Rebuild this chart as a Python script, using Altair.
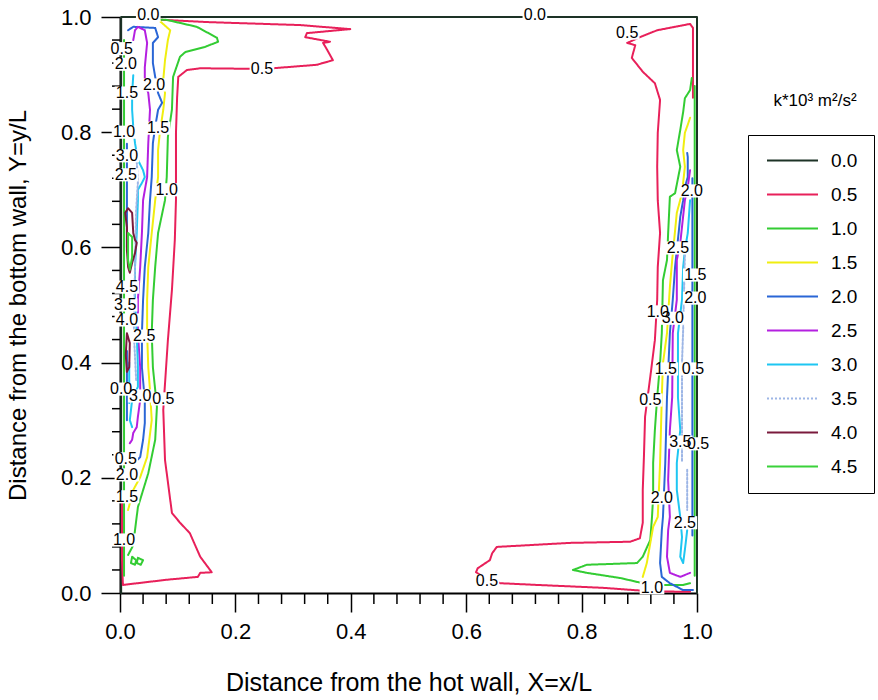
import altair as alt
import pandas as pd

# ---------------- data ----------------
levels = ["0.0", "0.5", "1.0", "1.5", "2.0", "2.5", "3.0", "3.5", "4.0", "4.5"]
level_colors = ["#1d3326", "#e8205a", "#33cc33", "#f0ee10", "#2a66d6",
                "#b420e0", "#1ec6f2", "#9db6e6", "#7a1a3c", "#3ad23a"]
level_dash = [[1, 0]] * 7 + [[2, 2]] + [[1, 0]] * 2

major_ticks = [0.0, 0.2, 0.4, 0.6, 0.8, 1.0]
minor_ticks = [0.04, 0.08, 0.12, 0.16, 0.24, 0.28, 0.32, 0.36, 0.44, 0.48, 0.52,
               0.56, 0.64, 0.68, 0.72, 0.76, 0.84, 0.88, 0.92, 0.96]

# k = 0.0 (walls)
k00_wall_x = [0.002, 0.002, 1.0, 1.0]
k00_wall_y = [0.0, 1.0, 1.0, 0.0]

# k = 0.5
k05_left_x = [0.0035, 0.0035, 0.005, 0.081, 0.135, 0.139, 0.159, 0.139, 0.121, 0.104, 0.090,
              0.078, 0.075, 0.083, 0.090, 0.095, 0.097, 0.097, 0.099, 0.101, 0.116, 0.139,
              0.231, 0.265, 0.341, 0.369, 0.359, 0.352, 0.364, 0.321, 0.324, 0.399, 0.312,
              0.156, 0.075, 0.035]
k05_left_y = [0.161, 0.057, 0.014, 0.023, 0.028, 0.035, 0.036, 0.063, 0.104, 0.122, 0.139,
              0.231, 0.318, 0.439, 0.526, 0.613, 0.682, 0.799, 0.861, 0.896, 0.908, 0.911,
              0.910, 0.911, 0.917, 0.925, 0.943, 0.955, 0.957, 0.965, 0.972, 0.979, 0.986,
              0.991, 0.995, 0.997]
k05_right_x = [0.993, 0.993, 0.993, 0.988, 0.931, 0.901, 0.879, 0.893, 0.887, 0.906, 0.927,
               0.936, 0.932, 0.931, 0.932, 0.936, 0.932, 0.931, 0.927, 0.919, 0.910, 0.908,
               0.906, 0.906, 0.901, 0.884, 0.780, 0.653, 0.645, 0.641, 0.620, 0.617, 0.627,
               0.659, 0.723, 0.837, 0.919, 0.988]
k05_right_y = [0.860, 0.943, 0.981, 0.988, 0.977, 0.965, 0.955, 0.951, 0.929, 0.905, 0.885,
               0.856, 0.799, 0.740, 0.682, 0.625, 0.566, 0.509, 0.439, 0.375, 0.306, 0.236,
               0.179, 0.122, 0.095, 0.089, 0.087, 0.080, 0.069, 0.057, 0.043, 0.036, 0.030,
               0.017, 0.014, 0.009, 0.003, 0.002]

# k = 1.0
k10_left_x = [0.014, 0.023, 0.026, 0.031, 0.049, 0.061, 0.064, 0.057, 0.055, 0.057, 0.061,
              0.066, 0.078, 0.081, 0.083, 0.090, 0.092, 0.104, 0.113, 0.147, 0.170, 0.168,
              0.133, 0.081, 0.035]
k10_left_y = [0.066, 0.083, 0.109, 0.149, 0.208, 0.266, 0.323, 0.392, 0.451, 0.509, 0.566,
              0.625, 0.682, 0.722, 0.792, 0.839, 0.896, 0.931, 0.939, 0.948, 0.957, 0.964,
              0.983, 0.995, 0.997]
k10_blob1_x = [0.021, 0.028, 0.026, 0.019, 0.021]
k10_blob1_y = [0.063, 0.057, 0.049, 0.052, 0.063]
k10_blob2_x = [0.031, 0.040, 0.036, 0.029, 0.031]
k10_blob2_y = [0.061, 0.057, 0.049, 0.052, 0.061]
k10_wall_left_x = [0.007, 0.007]
k10_wall_left_y = [0.03, 0.96]
k10_right_x = [0.991, 0.988, 0.979, 0.976, 0.971, 0.965, 0.971, 0.962, 0.953, 0.950, 0.948,
               0.941, 0.939, 0.936, 0.931, 0.927, 0.924, 0.924, 0.922, 0.919, 0.906, 0.896,
               0.809, 0.785, 0.809, 0.867, 0.906, 0.931, 0.976, 0.988]
k10_right_y = [0.894, 0.873, 0.859, 0.835, 0.804, 0.769, 0.740, 0.694, 0.688, 0.625, 0.578,
               0.543, 0.451, 0.399, 0.340, 0.283, 0.226, 0.167, 0.132, 0.092, 0.063, 0.052,
               0.049, 0.040, 0.035, 0.026, 0.017, 0.014, 0.014, 0.017]
k10_wall_right_x = [0.996, 0.996]
k10_wall_right_y = [0.03, 0.88]

# k = 1.5
k15_left_x = [0.014, 0.023, 0.035, 0.047, 0.055, 0.052, 0.049, 0.047, 0.047, 0.049, 0.055,
              0.061, 0.066, 0.066, 0.069, 0.075, 0.078, 0.075, 0.078, 0.083, 0.087, 0.069]
k15_left_y = [0.144, 0.179, 0.201, 0.236, 0.300, 0.352, 0.392, 0.451, 0.509, 0.566, 0.625,
              0.682, 0.722, 0.769, 0.799, 0.839, 0.868, 0.891, 0.925, 0.960, 0.977, 0.993]
k15_right_x = [0.988, 0.984, 0.979, 0.976, 0.979, 0.974, 0.965, 0.957, 0.953, 0.948, 0.941,
               0.939, 0.936, 0.932, 0.924, 0.913, 0.906]
k15_right_y = [0.825, 0.813, 0.799, 0.769, 0.740, 0.694, 0.660, 0.578, 0.531, 0.451, 0.399,
               0.340, 0.226, 0.132, 0.115, 0.052, 0.028]

# k = 2.0
k20_left_x = [0.021, 0.026, 0.035, 0.040, 0.043, 0.043, 0.038, 0.038, 0.040, 0.043, 0.049,
              0.052, 0.055, 0.057, 0.061, 0.066, 0.073, 0.066, 0.061, 0.057, 0.057, 0.066,
              0.061, 0.023, 0.014]
k20_left_y = [0.231, 0.227, 0.236, 0.266, 0.295, 0.335, 0.392, 0.451, 0.509, 0.566, 0.625,
              0.682, 0.722, 0.781, 0.809, 0.839, 0.851, 0.868, 0.896, 0.920, 0.955, 0.965,
              0.981, 0.983, 0.977]
k20_wall_a_x = [0.012, 0.012]
k20_wall_a_y = [0.60, 0.78]
k20_wall_b_x = [0.012, 0.012]
k20_wall_b_y = [0.30, 0.42]
k20_right_x = [0.983, 0.984, 0.984, 0.979, 0.976, 0.971, 0.965, 0.962, 0.958, 0.953, 0.948,
               0.945, 0.941, 0.939, 0.936, 0.939, 0.953, 0.976, 0.993]
k20_right_y = [0.764, 0.757, 0.722, 0.705, 0.682, 0.653, 0.595, 0.566, 0.509, 0.451, 0.340,
               0.226, 0.132, 0.109, 0.052, 0.028, 0.017, 0.005, 0.005]
k20_wall_right_x = [0.992, 0.992]
k20_wall_right_y = [0.10, 0.72]

# k = 2.5
k25_left_x = [0.017, 0.021, 0.023, 0.029, 0.031, 0.035, 0.035, 0.035, 0.031, 0.031, 0.035,
              0.038, 0.040, 0.047, 0.049, 0.052, 0.049, 0.043, 0.043, 0.047, 0.043, 0.031,
              0.026, 0.023]
k25_left_y = [0.260, 0.266, 0.278, 0.288, 0.306, 0.335, 0.358, 0.392, 0.451, 0.509, 0.566,
              0.625, 0.682, 0.722, 0.781, 0.839, 0.868, 0.885, 0.913, 0.955, 0.977, 0.983,
              0.977, 0.960]
k25_right_x = [0.988, 0.984, 0.979, 0.971, 0.965, 0.965, 0.958, 0.957, 0.953, 0.950, 0.953,
               0.950, 0.948, 0.953, 0.971, 0.988]
k25_right_y = [0.734, 0.705, 0.682, 0.608, 0.578, 0.509, 0.451, 0.340, 0.283, 0.196, 0.132,
               0.109, 0.063, 0.035, 0.028, 0.035]

# k = 3.0
k30_left_x = [0.021, 0.017, 0.021, 0.031, 0.031, 0.029, 0.026, 0.026, 0.029, 0.031, 0.031,
              0.038, 0.043, 0.040, 0.031, 0.026, 0.023, 0.021, 0.021, 0.023]
k30_left_y = [0.288, 0.300, 0.335, 0.358, 0.392, 0.451, 0.509, 0.566, 0.625, 0.682, 0.700,
              0.712, 0.722, 0.734, 0.752, 0.781, 0.809, 0.839, 0.868, 0.899]
k30_wall_x = [0.016, 0.016]
k30_wall_y = [0.33, 0.40]
k30_right_x = [0.988, 0.984, 0.979, 0.976, 0.974, 0.967, 0.967, 0.971, 0.965, 0.965, 0.971,
               0.974, 0.971, 0.976, 0.979, 0.983]
k30_right_y = [0.682, 0.625, 0.595, 0.566, 0.509, 0.451, 0.340, 0.283, 0.226, 0.179, 0.132,
               0.097, 0.063, 0.052, 0.075, 0.109]

# k = 3.5
k35_left_x = [0.028, 0.031, 0.028, 0.026, 0.024, 0.028]
k35_left_y = [0.769, 0.712, 0.665, 0.566, 0.451, 0.370]
k35_right_x = [0.979, 0.976, 0.974, 0.974]
k35_right_y = [0.587, 0.457, 0.399, 0.226]
k35_right2_x = [0.983, 0.983]
k35_right2_y = [0.214, 0.144]

# k = 4.0
k40_a_x = [0.009, 0.014, 0.021, 0.023, 0.026, 0.029, 0.026, 0.021, 0.017, 0.014, 0.012, 0.012, 0.009]
k40_a_y = [0.660, 0.668, 0.660, 0.625, 0.613, 0.608, 0.590, 0.573, 0.556, 0.566, 0.595, 0.635, 0.660]
k40_b_x = [0.012, 0.017, 0.016, 0.012, 0.010, 0.012]
k40_b_y = [0.451, 0.434, 0.392, 0.384, 0.413, 0.451]

# k = 4.5
k45_x = [0.014, 0.021, 0.021, 0.017, 0.014, 0.014]
k45_y = [0.625, 0.618, 0.583, 0.561, 0.578, 0.625]

# contour labels
lab_text = ["0.0", "0.0", "0.5", "0.5", "2.0", "1.5", "2.0", "1.5", "1.0", "3.0", "2.5", "1.0",
            "4.5", "3.5", "4.0", "2.5", "0.0", "3.0", "0.5", "0.5", "2.0", "1.5", "1.0",
            "0.5", "2.0", "2.5", "1.5", "2.0", "1.0", "3.0", "1.5", "0.5", "0.5", "0.5",
            "3.5", "2.0", "2.5", "1.0", "0.5"]
lab_x = [0.049, 0.719, 0.246, 0.003, 0.010, 0.012, 0.059, 0.066, 0.007, 0.012, 0.010, 0.081,
         0.012, 0.009, 0.012, 0.042, 0.002, 0.035, 0.075, 0.010, 0.012, 0.012, 0.007,
         0.879, 0.991, 0.967, 0.997, 0.997, 0.932, 0.958, 0.946, 0.993, 0.919, 1.002,
         0.971, 0.939, 0.979, 0.922, 0.636]
lab_y = [1.003, 1.003, 0.910, 0.945, 0.918, 0.868, 0.882, 0.807, 0.800, 0.759, 0.726, 0.700,
         0.531, 0.500, 0.474, 0.446, 0.354, 0.342, 0.337, 0.233, 0.205, 0.167, 0.092,
         0.972, 0.698, 0.599, 0.552, 0.512, 0.488, 0.477, 0.389, 0.389, 0.335, 0.259,
         0.262, 0.165, 0.122, 0.009, 0.021]

legend_title = "k*10\u00b3 m\u00b2/s\u00b2"

segments = [
    ("0.0", k00_wall_x, k00_wall_y),
    ("0.5", k05_left_x, k05_left_y), ("0.5", k05_right_x, k05_right_y),
    ("1.0", k10_left_x, k10_left_y), ("1.0", k10_blob1_x, k10_blob1_y),
    ("1.0", k10_blob2_x, k10_blob2_y), ("1.0", k10_wall_left_x, k10_wall_left_y),
    ("1.0", k10_right_x, k10_right_y), ("1.0", k10_wall_right_x, k10_wall_right_y),
    ("1.5", k15_left_x, k15_left_y), ("1.5", k15_right_x, k15_right_y),
    ("2.0", k20_left_x, k20_left_y), ("2.0", k20_wall_a_x, k20_wall_a_y),
    ("2.0", k20_wall_b_x, k20_wall_b_y), ("2.0", k20_right_x, k20_right_y),
    ("2.0", k20_wall_right_x, k20_wall_right_y),
    ("2.5", k25_left_x, k25_left_y), ("2.5", k25_right_x, k25_right_y),
    ("3.0", k30_left_x, k30_left_y), ("3.0", k30_wall_x, k30_wall_y),
    ("3.0", k30_right_x, k30_right_y),
    ("3.5", k35_left_x, k35_left_y), ("3.5", k35_right_x, k35_right_y),
    ("3.5", k35_right2_x, k35_right2_y),
    ("4.0", k40_a_x, k40_a_y), ("4.0", k40_b_x, k40_b_y),
    ("4.5", k45_x, k45_y),
]

rows = []
for sid, (lev, xs, ys) in enumerate(segments):
    for i, (x, y) in enumerate(zip(xs, ys)):
        rows.append({"level": lev, "seg": sid, "i": i, "x": x, "y": y})
df = pd.DataFrame(rows)
labels_df = pd.DataFrame({"text": lab_text, "x": lab_x, "y": lab_y})
title_df = pd.DataFrame({"t": [legend_title]})
minor_df = pd.DataFrame({"v": minor_ticks})

# ---------------- chart ----------------
NUM_FONT = "Liberation Sans Narrow, Liberation Sans, Arial"
TXT_FONT = "Liberation Sans, Arial"
W, H = 577, 576

xscale = alt.Scale(domain=[0, 1], nice=False, zero=False)
yscale = alt.Scale(domain=[0, 1], nice=False, zero=False)

x_axis = alt.Axis(values=major_ticks, format=".1f", orient="bottom", tickSize=19, tickWidth=1.5,
                  tickColor="black", domainColor="black", domainWidth=2, grid=False,
                  labelFlush=False, labelOverlap=False,
                  labelFont=NUM_FONT, labelFontSize=22, labelColor="black", labelPadding=9,
                  title="Distance from the hot wall, X=x/L", titleFont=TXT_FONT,
                  titleFontSize=25, titleFontWeight="normal", titleColor="black", titlePadding=28)
y_axis = alt.Axis(values=major_ticks, format=".1f", orient="left", tickSize=19, tickWidth=1.5,
                  tickColor="black", domainColor="black", domainWidth=2, grid=False,
                  labelFlush=False, labelOverlap=False,
                  labelFont=NUM_FONT, labelFontSize=22, labelColor="black", labelPadding=10,
                  title="Distance from the bottom wall, Y=y/L", titleFont=TXT_FONT,
                  titleFontSize=24, titleFontWeight="normal", titleColor="black", titlePadding=30)

legend = alt.Legend(orient="none", legendX=628, legendY=118, title=None, strokeColor="black",
                    fillColor="white", padding=16, symbolType="M-3,0H3", symbolSize=289,
                    symbolStrokeWidth=2, labelFont=TXT_FONT, labelFontSize=19, labelColor="black",
                    rowPadding=14, symbolOffset=19, labelOffset=29)

X = lambda f: alt.X(f, scale=xscale, axis=x_axis)
Y = lambda f: alt.Y(f, scale=yscale, axis=y_axis)

lines = alt.Chart(df).mark_line(strokeWidth=2, strokeJoin="round", strokeCap="round").encode(
    x=X("x:Q"),
    y=Y("y:Q"),
    color=alt.Color("level:N", scale=alt.Scale(domain=levels, range=level_colors), legend=legend),
    strokeDash=alt.StrokeDash("level:N", scale=alt.Scale(domain=levels, range=level_dash), legend=legend),
    detail="seg:N",
    order="i:Q",
)

# minor ticks (outside the plot, along both axes)
minor_x = alt.Chart(minor_df).mark_rule(color="black", strokeWidth=1.5, clip=False).encode(
    x=X("v:Q"), y=alt.value(H), y2=alt.value(H + 11),
)
minor_y = alt.Chart(minor_df).mark_rule(color="black", strokeWidth=1.5, clip=False).encode(
    y=Y("v:Q"), x=alt.value(-8), x2=alt.value(0),
)

boxes = alt.Chart(labels_df).mark_point(
    shape="M-1.5,-0.8H1.5V0.8H-1.5Z", filled=True, fill="white", opacity=1, strokeWidth=0, size=270
).encode(x=X("x:Q"), y=Y("y:Q"))

texts = alt.Chart(labels_df).mark_text(font=TXT_FONT, fontSize=16, color="black").encode(
    x=X("x:Q"), y=Y("y:Q"), text="text:N",
)

ltitle = alt.Chart(title_df).mark_text(font=TXT_FONT, fontSize=17, color="black").encode(
    x=alt.value(695), y=alt.value(84), text="t:N"
)

chart = alt.layer(lines, minor_x, minor_y, boxes, texts, ltitle).properties(
    width=W, height=H,
    autosize=alt.AutoSizeParams(type="none"),
    padding={"left": 120, "top": 17, "right": 181, "bottom": 107},
).configure_view(stroke=None)

chart.save("out.html", embed_options={"renderer": "svg", "actions": False})
